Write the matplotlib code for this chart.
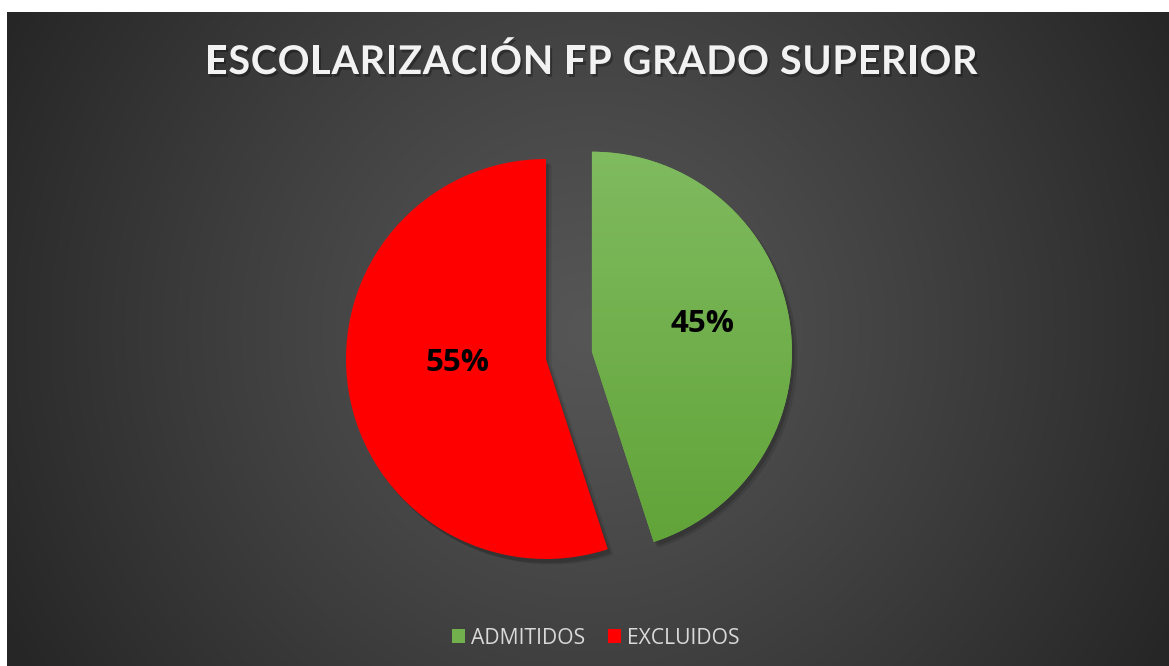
import numpy as np
import matplotlib
matplotlib.use("Agg")
import matplotlib.pyplot as plt
import matplotlib.patches as mpatches
import matplotlib.patheffects as pe
from matplotlib import font_manager, ft2font
from matplotlib.font_manager import FontProperties

# ---------------- data ----------------
title = "ESCOLARIZACIÓN FP GRADO SUPERIOR"
categories = ["ADMITIDOS", "EXCLUIDOS"]
values = [45, 55]
colors = ["#72b04d", "#ff0000"]

W, H = 1169, 666
fig = plt.figure(figsize=(W / 100, H / 100), dpi=100)
fig.patch.set_facecolor("white")
ax = fig.add_axes([0, 0, 1, 1])

# ---------------- radial background ----------------
bx0, bx1, by0, by1 = 7, W, 0, H - 12
gx = np.linspace(bx0, bx1, 600)
gy = np.linspace(by0, by1, 340)
X, Y = np.meshgrid(gx, gy)
cx, cy = 590, 336
d = np.sqrt((X - cx) ** 2 + (Y - cy) ** 2) / 662.0
v = 86 - 48 * np.clip(d, 0, 1) ** 1.15
img = np.dstack([v, v, v]) / 255.0
ax.imshow(img, extent=(bx0, bx1, by0, by1), origin="lower", aspect="auto",
          zorder=0, interpolation="bilinear")

# ---------------- pie ----------------
shadow = [pe.SimplePatchShadow(offset=(4, -4), shadow_rgbFace="black", alpha=0.10),
          pe.SimplePatchShadow(offset=(2, -3), shadow_rgbFace="black", alpha=0.15),
          pe.Normal()]
wedges, texts, autotexts = ax.pie(
    values, colors=colors, startangle=90, counterclock=False,
    center=(546, 307), radius=200, explode=[46.5, 0],
    autopct="%1.0f%%", pctdistance=0.55,
    textprops=dict(color="black", fontsize=22.5, fontweight="bold", family="Open Sans"),
    wedgeprops=dict(linewidth=0, path_effects=shadow), frame=True)
for w in wedges:
    w.set_zorder(2)

# gradient fill on the green slice
gw = wedges[0]
gy2 = np.linspace(0, 1, 256)
top = np.array([128, 187, 96]) / 255.0
bot = np.array([96, 163, 55]) / 255.0
grad = bot[None, :] * (1 - gy2[:, None]) + top[None, :] * gy2[:, None]
grad = np.repeat(grad[:, None, :], 2, axis=1)
gcx, gcy = gw.center
gi = ax.imshow(grad, extent=(gcx - 205, gcx + 205, gcy - 205, gcy + 205), origin="lower",
               aspect="auto", zorder=2.5, interpolation="bilinear")
gi.set_clip_path(gw)

# percentage labels (Excel best-fit positions)
for t in autotexts:
    t.set_zorder(5)
autotexts[0].set_position((gcx + 111, gcy + 28))
autotexts[1].set_position((546 - 89, 307 - 4))

ax.set_xlim(0, W)
ax.set_ylim(0, H)
ax.set_aspect("auto")
ax.axis("off")

# ---------------- title with letter spacing ----------------
fp = FontProperties(family="Lato", weight="bold")
path = font_manager.findfont(fp)
size = 28.5
font = ft2font.FT2Font(path)
font.set_size(size, 100)
adv = [font.load_char(ord(c)).linearHoriAdvance / 65536.0 for c in title]
spacing = (770.0 - sum(adv[:-1]) - adv[-1] * 0.9) / (len(title) - 1)
total = sum(adv[:-1]) + adv[-1] * 0.9 + spacing * (len(title) - 1)
x = 590 - total / 2
tshadow = [pe.SimplePatchShadow(offset=(1.5, -2), shadow_rgbFace="black", alpha=0.3),
           pe.Normal()]
for c, a in zip(title, adv):
    ax.text(x, H - 74, c, fontproperties=fp, fontsize=size, color="#f2f2f2",
            ha="left", va="baseline", path_effects=tshadow, zorder=6)
    x += a + spacing

# ---------------- legend ----------------
handles = [mpatches.Patch(facecolor=c, edgecolor="none") for c in colors]
leg = ax.legend(handles, categories, loc="center", bbox_to_anchor=(596 / W, 28 / H),
                ncol=2, frameon=False, labelcolor="#d9d9d9",
                handlelength=0.6, handleheight=0.6, handletextpad=0.3,
                columnspacing=1.1, prop=dict(family="Open Sans", size=15.2))

fig.savefig("out.png", dpi=100)
